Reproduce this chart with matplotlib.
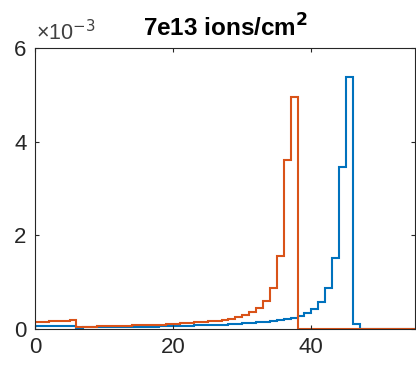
import numpy as np
import matplotlib
matplotlib.use("Agg")
import matplotlib.pyplot as plt
from matplotlib.ticker import FuncFormatter

plt.rcParams['font.family'] = ['Liberation Sans', 'DejaVu Sans']

# bin edges (unit-width bins from 0 to 55)
edges = list(range(0, 56))

# values in units of 1e-3, one per bin [i, i+1)
blue_e3 = [0.060, 0.061, 0.062, 0.064, 0.066, 0.068,
           0.030, 0.032, 0.034, 0.036, 0.038, 0.040, 0.042, 0.044, 0.046, 0.048,
           0.050, 0.053, 0.056, 0.058, 0.060, 0.065, 0.070, 0.075, 0.080, 0.085,
           0.090, 0.095, 0.100, 0.110, 0.120, 0.130, 0.140, 0.155, 0.170, 0.190,
           0.210, 0.240, 0.280, 0.340, 0.430, 0.580, 0.870, 1.520, 3.450, 5.390,
           0.110, 0.0, 0.0, 0.0, 0.0, 0.0, 0.0, 0.0, 0.0]
orange_e3 = [0.145, 0.153, 0.161, 0.169, 0.177, 0.185,
             0.045, 0.050, 0.050, 0.055, 0.060, 0.060, 0.065, 0.070, 0.075, 0.080,
             0.085, 0.090, 0.095, 0.100, 0.110, 0.120, 0.130, 0.140, 0.150, 0.165,
             0.180, 0.200, 0.220, 0.250, 0.290, 0.360, 0.440, 0.600, 0.880, 1.560,
             3.610, 4.950, 0.0, 0.0, 0.0, 0.0, 0.0, 0.0, 0.0, 0.0, 0.0, 0.0,
             0.0, 0.0, 0.0, 0.0, 0.0, 0.0, 0.0]

title = "7e13 ions/cm$^{\\mathbf{2}}$"
xticks = [0, 20, 40]
yticks = [0, 0.002, 0.004, 0.006]

blue = np.array(blue_e3) * 1e-3
orange = np.array(orange_e3) * 1e-3

fig = plt.figure(figsize=(4.16, 3.66), dpi=100)
ax = fig.add_axes([0.0841, 0.1011, 0.9135, 0.7678])

ax.stairs(blue, edges, color='#0072BD', linewidth=1.5)
ax.stairs(orange, edges, color='#D95319', linewidth=1.5)

ax.set_xlim(0, 55)
ax.set_ylim(0, 0.006)
ax.set_xticks(xticks)
ax.set_yticks(yticks)
ax.yaxis.set_major_formatter(FuncFormatter(lambda v, p: f"{v*1e3:g}"))

tc = '#262626'
for s in ax.spines.values():
    s.set_color('#262626')
    s.set_linewidth(0.8)
ax.tick_params(direction='in', top=True, right=True, length=3, width=0.8,
               labelsize=16, colors=tc, pad=6)

ax.text(0.003, 1.01, "×10$^{-3}$", transform=ax.transAxes, fontsize=15.5,
        color='#404040', ha='left', va='bottom')
ax.set_title(title, fontsize=17.5, fontweight='bold', color='black', pad=8)

fig.savefig("out.png", dpi=100)
